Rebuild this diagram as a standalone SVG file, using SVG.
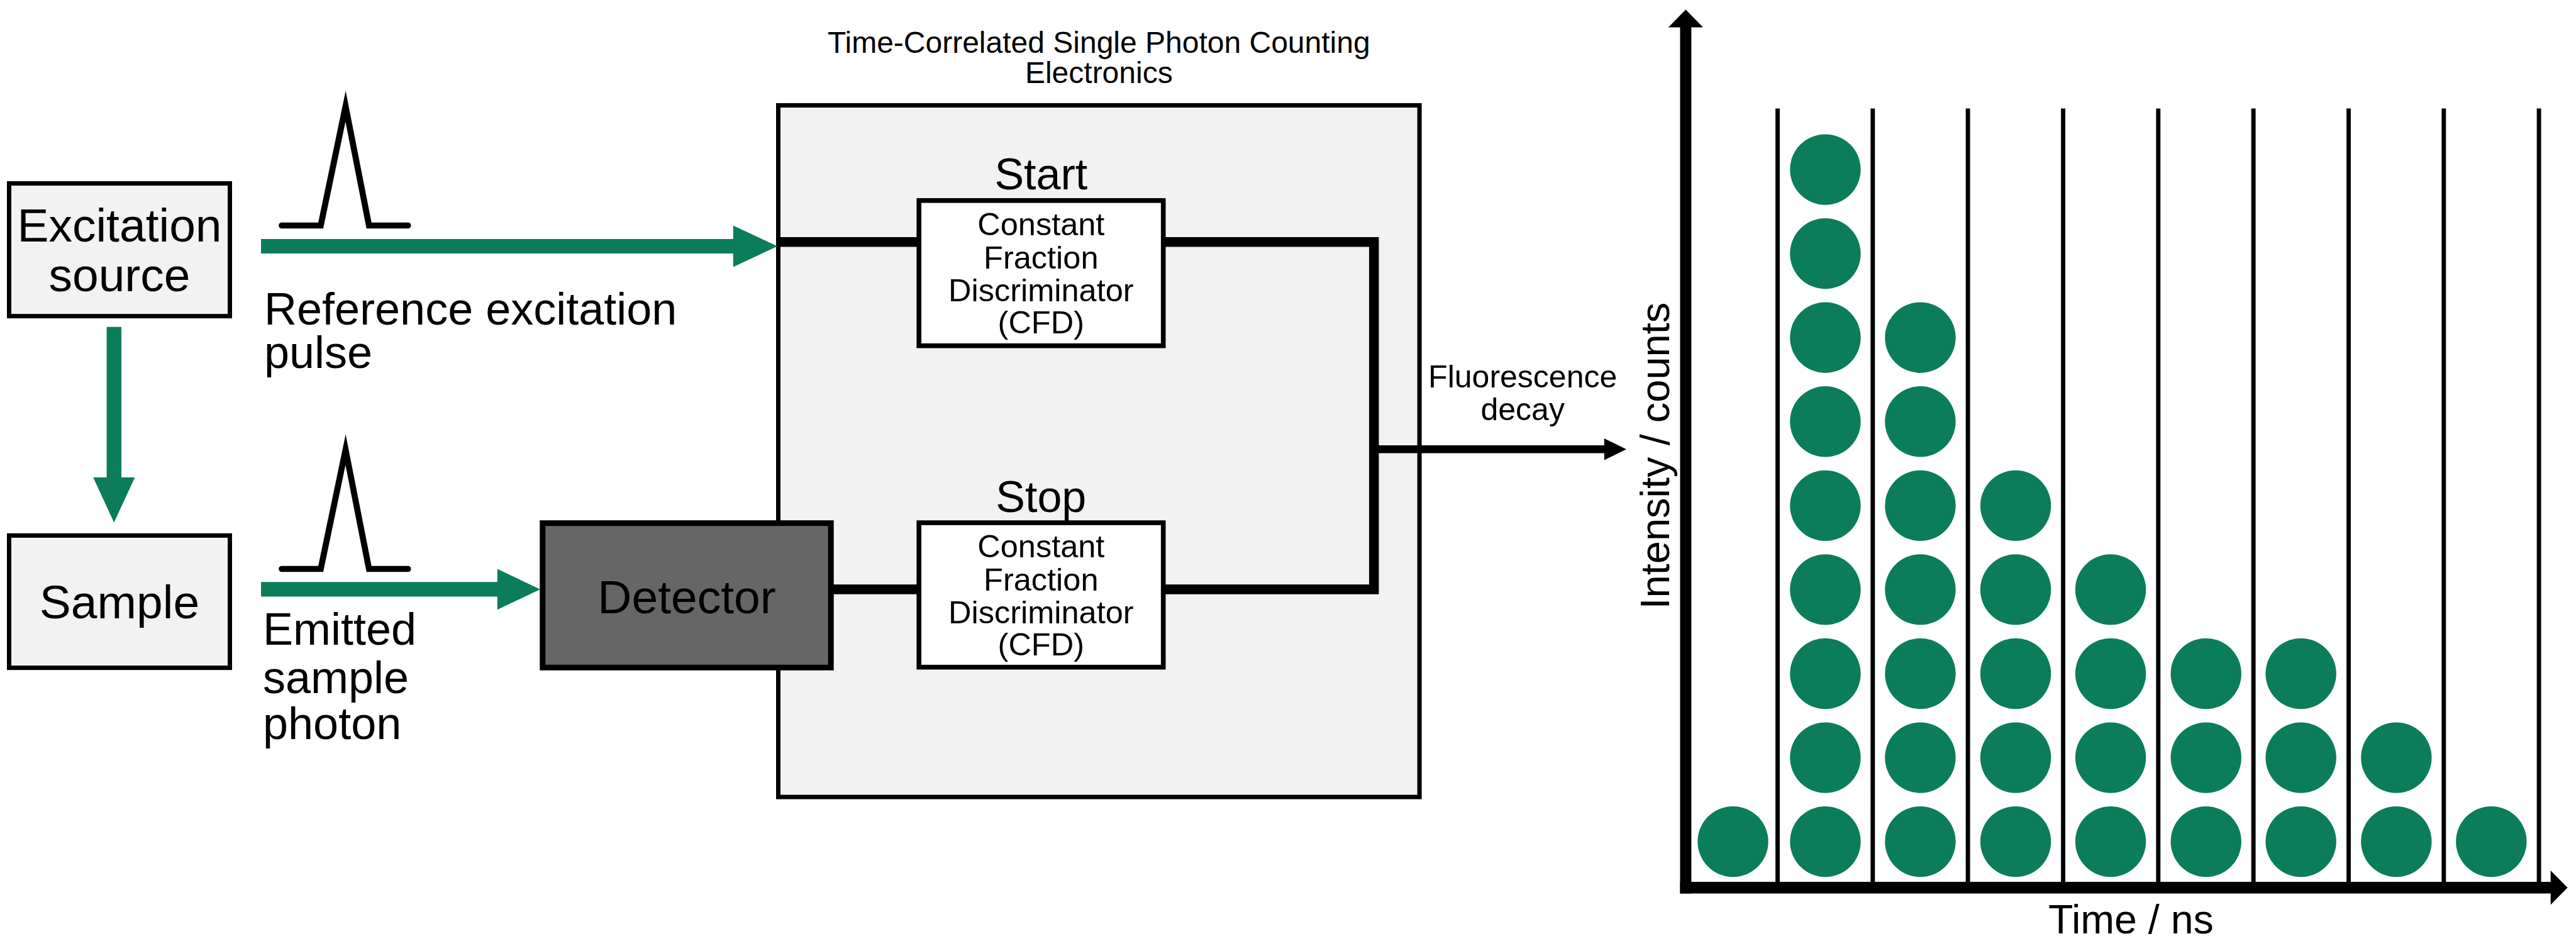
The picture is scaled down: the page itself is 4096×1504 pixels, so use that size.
<svg xmlns="http://www.w3.org/2000/svg" width="4096" height="1504" viewBox="0 0 4096 1504">
<style>
text{font-family:"Liberation Sans",Arial,sans-serif;fill:#000}
.box{fill:#f2f2f2;stroke:#000;stroke-width:7}
.cfd{fill:#fff;stroke:#000;stroke-width:7.6}
.big{font-size:75px;text-anchor:middle}
.lbl{font-size:72px}
.cfdt{font-size:50.5px;text-anchor:middle}
.ss{font-size:70px;text-anchor:middle}
.grn{fill:#0b7d5a}
.wire{fill:none;stroke:#000;stroke-width:15.5;stroke-linejoin:miter}
.pulse{fill:none;stroke:#000;stroke-width:9.7;stroke-linecap:round;stroke-linejoin:miter;stroke-miterlimit:20}
.bin{stroke:#000;stroke-width:6.9}
.dot{fill:#0b7d5a}
</style>
<rect width="4096" height="1504" fill="#fff"/>

<g id="tcspc">
<rect class="box" x="1237.5" y="167.5" width="1019.6" height="1099.6"/>
<text style="font-size:48px;text-anchor:middle"><tspan x="1747.3" y="84.1">Time-Correlated Single Photon Counting</tspan><tspan x="1747.3" y="132.4">Electronics</tspan></text>
</g>

<g id="connectors">
<polygon class="grn" points="415,379.9 1165.8,379.9 1165.8,358.4 1236.1,391.4 1165.8,424.4 1165.8,402.9 415,402.9"/>
<polygon class="grn" points="415,925.2 790.8,925.2 790.8,904.5 859,936.9 790.8,969.3 790.8,948.6 415,948.6"/>
<polygon class="grn" points="169.6,519.8 193,519.8 193,759 214.4,759 181.3,830.7 148.2,759 169.6,759"/>
<path class="wire" d="M1237.5 384.7 H1461.2"/>
<path class="wire" d="M1849.7 384.7 H2184.7 V936.9 H1849.7"/>
<path class="wire" d="M1321 936.9 H1461.2"/>
<line x1="2184.7" y1="714.2" x2="2552" y2="714.2" stroke="#000" stroke-width="12.4"/>
<polygon points="2550.8,697 2586,714.2 2550.8,731.5" fill="#000"/>
</g>

<g id="pulse-reference">
<polyline class="pulse" points="448,358.5 510,358.5 549.5,169 586.7,358.5 648.7,358.5"/>
</g>
<g id="pulse-emitted">
<polyline class="pulse" points="448,904.5 510,904.5 549.5,715 586.7,904.5 648.7,904.5"/>
</g>

<g id="excitation-source">
<rect class="box" x="14.5" y="291.6" width="351" height="211"/>
<text class="big"><tspan x="190" y="384">Excitation</tspan><tspan x="190" y="462.6">source</tspan></text>
</g>

<g id="sample">
<rect class="box" x="14.5" y="851.4" width="351" height="210.3"/>
<text class="big" x="190" y="983">Sample</text>
</g>

<g id="label-reference">
<text class="lbl"><tspan x="420" y="515.7">Reference excitation</tspan><tspan x="420" y="585">pulse</tspan></text>
</g>

<g id="label-emitted">
<text class="lbl"><tspan x="418" y="1024.5">Emitted</tspan><tspan x="418" y="1101.7">sample</tspan><tspan x="418" y="1175.4">photon</tspan></text>
</g>

<g id="detector">
<rect x="862.8" y="831.7" width="458.4" height="229.6" fill="#666" stroke="#000" stroke-width="9"/>
<text class="big" x="1092" y="974.8">Detector</text>
</g>

<g id="cfd-start">
<text class="ss" x="1655.3" y="300.6">Start</text>
<rect class="cfd" x="1461.2" y="318.8" width="388.5" height="230.9"/>
<text class="cfdt"><tspan x="1655.3" y="373.7">Constant</tspan><tspan x="1655.3" y="426.7">Fraction</tspan><tspan x="1655.3" y="479.1">Discriminator</tspan><tspan x="1655.3" y="530.2">(CFD)</tspan></text>
</g>

<g id="cfd-stop">
<text class="ss" x="1655.3" y="814.2">Stop</text>
<rect class="cfd" x="1461.2" y="831.1" width="388.5" height="229.6"/>
<text class="cfdt"><tspan x="1655.3" y="885.9">Constant</tspan><tspan x="1655.3" y="938.9">Fraction</tspan><tspan x="1655.3" y="991.3">Discriminator</tspan><tspan x="1655.3" y="1042.4">(CFD)</tspan></text>
</g>

<g id="label-fluorescence">
<text style="font-size:50px;text-anchor:middle"><tspan x="2421.2" y="616.3">Fluorescence</tspan><tspan x="2421.2" y="668">decay</tspan></text>
</g>

<g id="histogram">
<g id="bins">
<line class="bin" x1="2826.5" y1="172.4" x2="2826.5" y2="1402"/>
<line class="bin" x1="2977.8" y1="172.4" x2="2977.8" y2="1402"/>
<line class="bin" x1="3129.1" y1="172.4" x2="3129.1" y2="1402"/>
<line class="bin" x1="3280.5" y1="172.4" x2="3280.5" y2="1402"/>
<line class="bin" x1="3431.8" y1="172.4" x2="3431.8" y2="1402"/>
<line class="bin" x1="3583.1" y1="172.4" x2="3583.1" y2="1402"/>
<line class="bin" x1="3734.5" y1="172.4" x2="3734.5" y2="1402"/>
<line class="bin" x1="3885.8" y1="172.4" x2="3885.8" y2="1402"/>
<line class="bin" x1="4037.1" y1="172.4" x2="4037.1" y2="1402"/>
</g>
<g id="counts">
<circle class="dot" cx="2755.5" cy="1338.1" r="56.2"/>
<circle class="dot" cx="2902.4" cy="269.6" r="56.2"/>
<circle class="dot" cx="2902.4" cy="403.2" r="56.2"/>
<circle class="dot" cx="2902.4" cy="536.7" r="56.2"/>
<circle class="dot" cx="2902.4" cy="670.3" r="56.2"/>
<circle class="dot" cx="2902.4" cy="803.9" r="56.2"/>
<circle class="dot" cx="2902.4" cy="937.4" r="56.2"/>
<circle class="dot" cx="2902.4" cy="1071" r="56.2"/>
<circle class="dot" cx="2902.4" cy="1204.6" r="56.2"/>
<circle class="dot" cx="2902.4" cy="1338.1" r="56.2"/>
<circle class="dot" cx="3053.4" cy="536.7" r="56.2"/>
<circle class="dot" cx="3053.4" cy="670.3" r="56.2"/>
<circle class="dot" cx="3053.4" cy="803.9" r="56.2"/>
<circle class="dot" cx="3053.4" cy="937.4" r="56.2"/>
<circle class="dot" cx="3053.4" cy="1071" r="56.2"/>
<circle class="dot" cx="3053.4" cy="1204.6" r="56.2"/>
<circle class="dot" cx="3053.4" cy="1338.1" r="56.2"/>
<circle class="dot" cx="3205" cy="803.9" r="56.2"/>
<circle class="dot" cx="3205" cy="937.4" r="56.2"/>
<circle class="dot" cx="3205" cy="1071" r="56.2"/>
<circle class="dot" cx="3205" cy="1204.6" r="56.2"/>
<circle class="dot" cx="3205" cy="1338.1" r="56.2"/>
<circle class="dot" cx="3356" cy="937.4" r="56.2"/>
<circle class="dot" cx="3356" cy="1071" r="56.2"/>
<circle class="dot" cx="3356" cy="1204.6" r="56.2"/>
<circle class="dot" cx="3356" cy="1338.1" r="56.2"/>
<circle class="dot" cx="3507.7" cy="1071" r="56.2"/>
<circle class="dot" cx="3507.7" cy="1204.6" r="56.2"/>
<circle class="dot" cx="3507.7" cy="1338.1" r="56.2"/>
<circle class="dot" cx="3658.6" cy="1071" r="56.2"/>
<circle class="dot" cx="3658.6" cy="1204.6" r="56.2"/>
<circle class="dot" cx="3658.6" cy="1338.1" r="56.2"/>
<circle class="dot" cx="3810.3" cy="1204.6" r="56.2"/>
<circle class="dot" cx="3810.3" cy="1338.1" r="56.2"/>
<circle class="dot" cx="3961.3" cy="1338.1" r="56.2"/>
</g>
<g id="axes">
<line x1="2680.4" y1="1420.5" x2="2680.4" y2="42" stroke="#000" stroke-width="17.9"/>
<polygon points="2652.8,43.4 2708,43.4 2680.4,15.2" fill="#000"/>
<line x1="2671.5" y1="1411.2" x2="4057" y2="1411.2" stroke="#000" stroke-width="18.6"/>
<polygon points="4055.7,1384 4082.6,1411.2 4055.7,1438.4" fill="#000"/>
<text x="3388.4" y="1484.3" style="font-size:64.5px;text-anchor:middle">Time / ns</text>
<text x="2654.2" y="724.6" transform="rotate(-90 2654.2 724.6)" style="font-size:65px;text-anchor:middle">Intensity / counts</text>
</g>
</g>
</svg>
